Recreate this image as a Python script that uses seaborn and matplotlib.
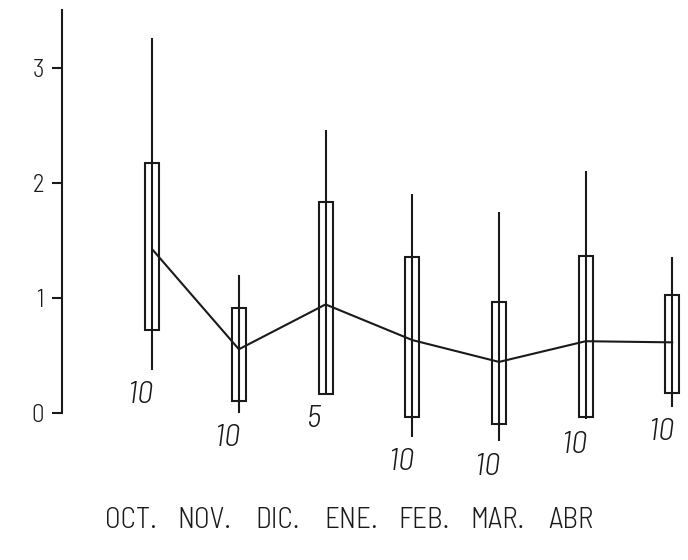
import matplotlib
matplotlib.use("Agg")
import matplotlib.pyplot as plt
import seaborn as sns
import pandas as pd

# Monthly summaries: box range, whisker range, mean and sample size
months = ["OCT.", "NOV.", "DIC.", "ENE.", "FEB.", "MAR.", "ABR"]
mean_vals = [1.42, 0.55, 0.94, 0.63, 0.44, 0.62, 0.61]
box_low = [0.72, 0.10, 0.16, -0.04, -0.10, -0.04, 0.17]
box_high = [2.17, 0.91, 1.83, 1.35, 0.96, 1.36, 1.02]
whisk_low = [0.37, 0.00, 0.16, -0.21, -0.25, -0.06, 0.05]
whisk_high = [3.26, 1.20, 2.46, 1.90, 1.74, 2.10, 1.35]
n_obs = [10, 10, 5, 10, 10, 10, 10]
y_ticks = [0, 1, 2, 3]

sns.set_theme(style="white")
plt.rcParams["font.family"] = ["Barlow Semi Condensed", "DejaVu Sans"]
plt.rcParams["font.weight"] = 300

df = pd.DataFrame({
    "pos": range(len(months)),
    "month": months,
    "mean": mean_vals,
    "lo": box_low,
    "hi": box_high,
    "wlo": whisk_low,
    "whi": whisk_high,
    "n": n_obs,
})

fig = plt.figure(figsize=(6.88, 5.60), dpi=100)
ax = fig.add_axes([0.0901, 0.1607, 0.9099, 0.8214])

ink = "#1a1a1a"
lw = 1.5
# whisker lines run through the full range, boxes drawn hollow on top
ax.vlines(df["pos"], df["wlo"], df["whi"], color=ink, lw=lw, zorder=2)
ax.bar(df["pos"], df["hi"] - df["lo"], bottom=df["lo"], width=0.16,
       fill=False, edgecolor=ink, linewidth=lw, zorder=3)

# mean line connecting the months
sns.lineplot(data=df, x="pos", y="mean", color=ink, lw=lw, ax=ax,
             zorder=4)

# sample sizes under each box
for _, r in df.iterrows():
    ax.text(r["pos"] - 0.13, r["wlo"] - 0.22, f"{r['n']}", ha="center",
            va="center", fontsize=23, style="italic", color=ink,
            fontweight=300)

ax.set_xlim(-1.04, 6.18)
ax.set_ylim(-0.5, 3.5)
ax.set_yticks(y_ticks)
ax.set_yticklabels([str(t) for t in y_ticks])
ax.set_xticks([])
ax.set_xlabel("")
ax.set_ylabel("")
sns.despine(ax=ax, top=True, right=True, bottom=True, left=False)
ax.spines["left"].set_bounds(0, 3.5)
ax.spines["left"].set_color(ink)
ax.spines["left"].set_linewidth(lw)
ax.tick_params(axis="y", direction="out", length=7, width=lw, left=True,
               labelsize=18, pad=6, colors=ink, labelcolor=ink)
ax.patch.set_alpha(0)

# month names along the bottom row
for i, m in enumerate(months):
    fig.text((131 + 73.3 * i) / 688, 1 - 520 / 560, m, ha="center",
             va="center", fontsize=21, color=ink, fontweight=300)

fig.savefig("out.png", dpi=100, facecolor="white")
